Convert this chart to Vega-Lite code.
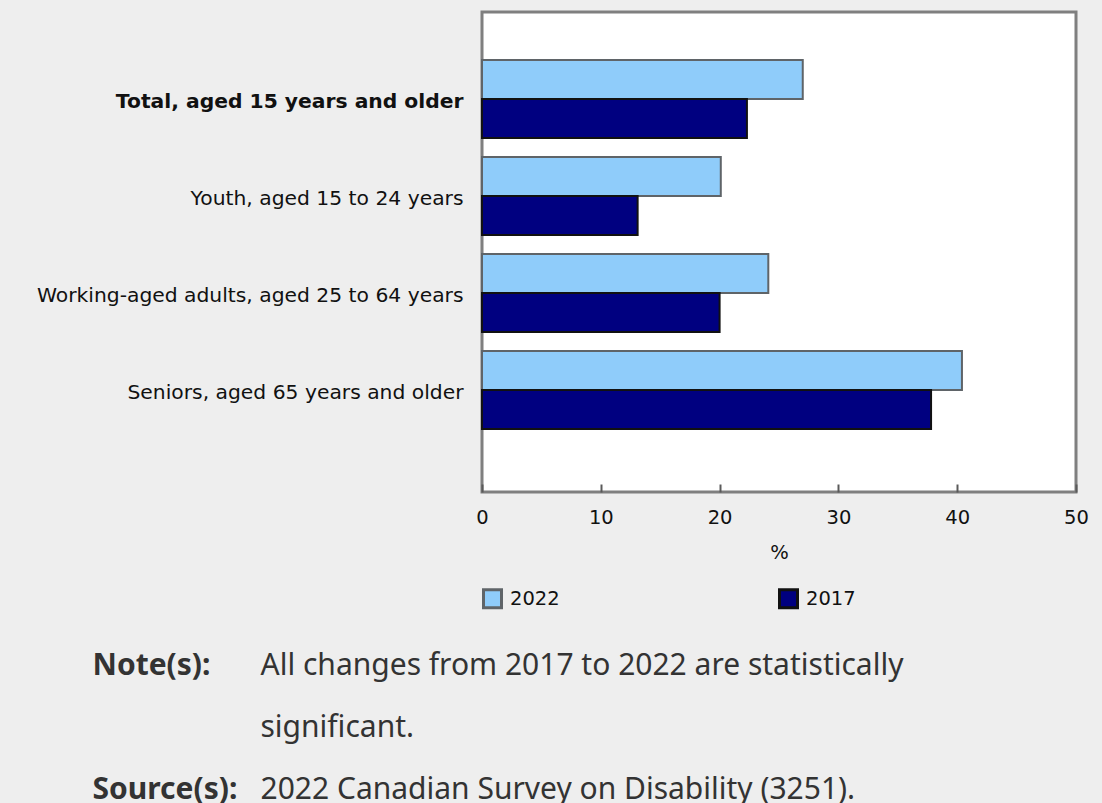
{
  "$schema": "https://vega.github.io/schema/vega-lite/v6.json",
  "width": 594,
  "height": 480,
  "autosize": {"type": "none"},
  "padding": {"left": 482, "top": 12, "right": 26, "bottom": 311},
  "background": "#eeeeee",
  "config": {
    "view": {"fill": "#ffffff", "stroke": "#7f7f7f", "strokeWidth": 3},
    "font": "DejaVu Sans"
  },
  "data": {
    "values": [
      {"group": "Total, aged 15 years and older", "year": "2022", "pct": 27.0},
      {"group": "Total, aged 15 years and older", "year": "2017", "pct": 22.3},
      {"group": "Youth, aged 15 to 24 years", "year": "2022", "pct": 20.1},
      {"group": "Youth, aged 15 to 24 years", "year": "2017", "pct": 13.1},
      {"group": "Working-aged adults, aged 25 to 64 years", "year": "2022", "pct": 24.1},
      {"group": "Working-aged adults, aged 25 to 64 years", "year": "2017", "pct": 20.0},
      {"group": "Seniors, aged 65 years and older", "year": "2022", "pct": 40.4},
      {"group": "Seniors, aged 65 years and older", "year": "2017", "pct": 37.8}
    ]
  },
  "encoding": {
    "y": {
      "field": "group",
      "type": "nominal",
      "scale": {
        "domain": ["Total, aged 15 years and older", "Youth, aged 15 to 24 years", "Working-aged adults, aged 25 to 64 years", "Seniors, aged 65 years and older"],
        "paddingInner": 0.196,
        "paddingOuter": 0.572,
        "align": 0.432
      },
      "axis": {
        "domain": false,
        "ticks": false,
        "grid": false,
        "labelPadding": 19,
        "labelOffset": 3,
        "labelFont": "DejaVu Sans",
        "labelFontSize": 20.3,
        "labelColor": "#111111",
        "labelLimit": 600,
        "labelFontWeight": {"condition": {"test": "datum.value === 'Total, aged 15 years and older'", "value": "bold"}, "value": "normal"},
        "title": ["Note(s):", "Source(s):"],
        "titleAngle": 0,
        "titleX": -390,
        "titleY": 662,
        "titleAlign": "left",
        "titleBaseline": "alphabetic",
        "titleFont": "Noto Sans",
        "titleFontSize": 30,
        "titleFontWeight": "bold",
        "titleColor": "#333333",
        "titleLineHeight": 124
      }
    },
    "yOffset": {
      "field": "year",
      "type": "nominal",
      "scale": {"domain": ["2022", "2017"], "paddingInner": 0, "paddingOuter": 0}
    },
    "fill": {
      "field": "year",
      "type": "nominal",
      "scale": {"domain": ["2022", "2017"], "range": ["#8fccfa", "#000080"]},
      "legend": {
        "orient": "none",
        "legendX": 0,
        "legendY": 576,
        "direction": "horizontal",
        "columns": 2,
        "columnPadding": 213,
        "padding": 0,
        "title": null,
        "symbolType": "square",
        "symbolSize": 324,
        "symbolStrokeWidth": 3,
        "labelFont": "DejaVu Sans",
        "labelFontSize": 19.5,
        "labelColor": "#111111",
        "labelOffset": 7
      }
    },
    "stroke": {
      "field": "year",
      "type": "nominal",
      "scale": {"domain": ["2022", "2017"], "range": ["#5f6468", "#111111"]},
      "legend": {
        "orient": "none",
        "legendX": 0,
        "legendY": 576,
        "direction": "horizontal",
        "columns": 2,
        "columnPadding": 213,
        "padding": 0,
        "title": null,
        "symbolType": "square",
        "symbolSize": 324,
        "symbolStrokeWidth": 3,
        "labelFont": "DejaVu Sans",
        "labelFontSize": 19.5,
        "labelColor": "#111111",
        "labelOffset": 7
      }
    }
  },
  "layer": [
    {
      "transform": [{"filter": "datum.year === '2022'"}],
      "mark": {"type": "bar", "strokeWidth": 2},
      "encoding": {
        "x": {
          "field": "pct",
          "type": "quantitative",
          "scale": {"domain": [0, 50], "nice": false},
          "axis": {
            "orient": "bottom",
            "values": [0, 10, 20, 30, 40, 50],
            "grid": false,
            "domain": false,
            "ticks": true,
            "tickSize": -8,
            "tickWidth": 2,
            "tickColor": "#5a5a5a",
            "labelPadding": 24,
            "labelFont": "DejaVu Sans",
            "labelFontSize": 19.5,
            "labelColor": "#111111",
            "labelFlush": false,
            "labelOverlap": false,
            "title": "%",
            "titleFont": "DejaVu Sans",
            "titleFontSize": 19.5,
            "titleFontWeight": "normal",
            "titleColor": "#111111",
            "titleX": 297,
            "titleY": 66,
            "titleAlign": "center",
            "titleBaseline": "alphabetic"
          }
        }
      }
    },
    {
      "transform": [{"filter": "datum.year === '2017'"}],
      "mark": {"type": "bar", "strokeWidth": 2},
      "encoding": {
        "x": {
          "field": "pct",
          "type": "quantitative",
          "scale": {"domain": [0, 50], "nice": false},
          "axis": {
            "orient": "top",
            "grid": false,
            "domain": false,
            "ticks": false,
            "labels": false,
            "title": ["All changes from 2017 to 2022 are statistically", "significant.", "2022 Canadian Survey on Disability (3251)."],
            "titleX": -222,
            "titleY": 662,
            "titleAlign": "left",
            "titleBaseline": "alphabetic",
            "titleFont": "Noto Sans",
            "titleFontSize": 30,
            "titleFontWeight": "normal",
            "titleColor": "#333333",
            "titleLineHeight": 62
          }
        }
      }
    }
  ],
  "resolve": {"axis": {"x": "independent"}}
}
